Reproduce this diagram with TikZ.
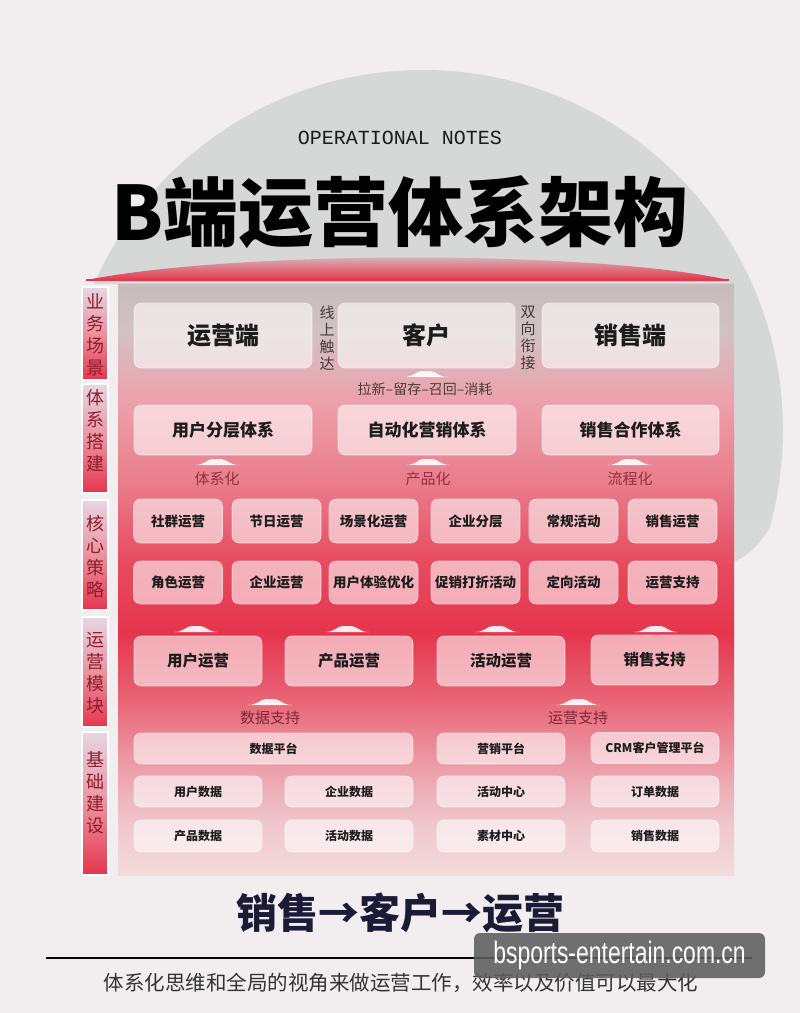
\documentclass[tikz,border=0pt]{standalone}
\usepackage{fontspec}
\setmainfont{Noto Sans CJK SC}
\newfontfamily\monof{Liberation Mono}
\newfontfamily\wmfont[FakeStretch=0.74]{Liberation Sans}
\definecolor{bg}{HTML}{F2EEEF}
\definecolor{txt}{HTML}{1C1C1C}
\definecolor{sidetxt}{HTML}{8E1D2E}
\definecolor{lbl}{HTML}{93303F}
\definecolor{lbldark}{HTML}{4B3B3E}
\definecolor{redA}{HTML}{E5354D}
\definecolor{navy}{HTML}{1B1B38}
\definecolor{subtxt}{HTML}{333333}
\definecolor{wmgray}{HTML}{5E5E5E}
\definecolor{discgray}{HTML}{D5D8D7}
% TikZ maps the path's bounding box onto 25bp..75bp of a custom shading
\pgfdeclareverticalshading{discshade}{100bp}{color(0bp)=(discgray!60!bg); color(25bp)=(discgray!60!bg); color(45bp)=(discgray); color(75bp)=(discgray); color(100bp)=(discgray)}
\pgfdeclareverticalshading{panelshade}{100bp}{%
color(0bp)=(bg);
color(25bp)=(bg!92!red);
color(29.5bp)=(redA!22!bg);
color(34.5bp)=(redA!45!bg);
color(40bp)=(redA!75!bg);
color(45.5bp)=(redA);
color(51.5bp)=(redA!88!bg);
color(58bp)=(redA!62!bg);
color(65bp)=(redA!42!bg);
color(71bp)=(redA!20!gray!35!bg);
color(75bp)=(redA!14!gray!42!bg);
color(100bp)=(redA!14!gray!42!bg)}
\pgfdeclareverticalshading{sideshade}{100bp}{color(0bp)=(redA); color(25bp)=(redA); color(50bp)=(redA!50!bg); color(75bp)=(violet!10!bg); color(100bp)=(violet!10!bg)}
\tikzset{
  box/.style={rounded corners=7pt, fill=white, fill opacity=0.58, text opacity=1,
    draw=white, draw opacity=0.6, line width=0.6pt, inner sep=0pt, text=txt},
  sideseg/.style={shading=sideshade, draw=white, line width=1.2pt},
  sidelbl/.style={font=\fontsize{18}{22}\selectfont, text=sidetxt, align=center, inner sep=0pt},
  vlbl/.style={font=\fontsize{15}{17}\selectfont, text=txt!85, align=center, inner sep=0pt},
  caplbl/.style={font=\fontsize{15}{15}\selectfont, text=lbl, inner sep=0pt},
  capfill/.style={fill=white, fill opacity=0.9}
}
\newcommand\upcap[2]{\fill[capfill] (#1-22,#2) .. controls (#1-12,#2) and (#1-10,#2-6) .. (#1-4,#2-6) -- (#1+4,#2-6) .. controls (#1+10,#2-6) and (#1+12,#2) .. (#1+22,#2) -- cycle;}
\begin{document}
\begin{tikzpicture}[x=1pt,y=-1pt]
\useasboundingbox (0,0) rectangle (800,1013);
\fill[bg] (0,0) rectangle (800,1013);
% gray disc (visible above the panel and at its right)
\begin{scope}
\clip (0,0) -- (800,0) -- (800,440) .. controls (785,510) and (765,548) .. (734,562) -- (734,284) -- (0,284) -- cycle;
\shade[shading=discshade] (423,430) circle [radius=360];
\end{scope}
% titles
\node[font=\monof\fontsize{20}{20}\selectfont, text=txt, inner sep=0pt] (en) at (400,138) {OPERATIONAL NOTES};
\node[font=\bfseries\fontsize{75}{75}\selectfont, text=black, inner sep=0pt] (title) at (400,212) {B端运营体系架构};
% lid
\shade[top color=discgray, bottom color=redA] (86,280) .. controls (240,250) and (590,250) .. (729,280) -- cycle;
\draw[redA, line width=1.5pt] (86,280) -- (729,280);
% panel
\shade[shading=panelshade] (118,284) rectangle (734,875);
% sidebar
\shade[sideseg] (82,287) rectangle (108,380);
\shade[sideseg] (82,384) rectangle (108,493);
\shade[sideseg] (82,500) rectangle (108,610);
\shade[sideseg] (82,617) rectangle (108,727);
\shade[sideseg] (82,732) rectangle (108,875);
\node[sidelbl] (s1) at (95,335) {业\\务\\场\\景};
\node[sidelbl] (s2) at (95,431) {体\\系\\搭\\建};
\node[sidelbl] (s3) at (95,557) {核\\心\\策\\略};
\node[sidelbl] (s4) at (95,673) {运\\营\\模\\块};
\node[sidelbl] (s5) at (95,793) {基\\础\\建\\设};
% row 1
\node[box, minimum width=178, minimum height=65, font=\bfseries\fontsize{24}{24}\selectfont] (yyd) at (223,335.5) {运营端};
\node[box, minimum width=177, minimum height=65, font=\bfseries\fontsize{24}{24}\selectfont] (kh) at (426.5,335.5) {客户};
\node[box, minimum width=177, minimum height=65, font=\bfseries\fontsize{24}{24}\selectfont] (xsd) at (630.5,335.5) {销售端};
\node[vlbl] (v1) at (327,338) {线\\上\\触\\达};
\node[vlbl] (v2) at (528,338) {双\\向\\衔\\接};
\upcap{426}{377}
\node[font=\fontsize{14}{14}\selectfont, text=lbldark, inner sep=0pt] (lx) at (425,389) {拉新–留存–召回–消耗};
% row 2
\node[box, minimum width=178, minimum height=50, font=\bfseries\fontsize{17}{17}\selectfont] (fc) at (223,430) {用户分层体系};
\node[box, minimum width=178, minimum height=50, font=\bfseries\fontsize{17}{17}\selectfont] (zd) at (427,430) {自动化营销体系};
\node[box, minimum width=177, minimum height=50, font=\bfseries\fontsize{17}{17}\selectfont] (hz) at (630.5,430) {销售合作体系};
\upcap{217}{465}
\upcap{428}{465}
\upcap{630}{465}
\node[caplbl] (l1) at (217,479) {体系化};
\node[caplbl] (l2) at (428,479) {产品化};
\node[caplbl] (l3) at (630,479) {流程化};
% row 3
\foreach \cx/\ta/\tb [count=\i] in {178/社群运营/角色运营, 276.5/节日运营/企业运营, 373.5/场景化运营/用户体验优化, 475.5/企业分层/促销打折活动, 573.5/常规活动/定向活动, 672.5/销售运营/运营支持}{
  \node[box, minimum width=89, minimum height=44, font=\bfseries\fontsize{13.5}{13.5}\selectfont] (a\i) at (\cx,521) {\ta};
  \node[box, minimum width=89, minimum height=43, font=\bfseries\fontsize{13.5}{13.5}\selectfont] (b\i) at (\cx,582.5) {\tb};
}
% row 4
\upcap{196}{632}
\upcap{347}{632}
\upcap{497}{632}
\upcap{656}{632}
\node[box, minimum width=128, minimum height=50, font=\bfseries\fontsize{15.5}{15.5}\selectfont] (m1) at (198,661) {用户运营};
\node[box, minimum width=128, minimum height=50, font=\bfseries\fontsize{15.5}{15.5}\selectfont] (m2) at (349,661) {产品运营};
\node[box, minimum width=128, minimum height=50, font=\bfseries\fontsize{15.5}{15.5}\selectfont] (m3) at (501,661) {活动运营};
\node[box, minimum width=127, minimum height=50, font=\bfseries\fontsize{15.5}{15.5}\selectfont] (m4) at (654.5,660) {销售支持};
\upcap{270}{705}
\upcap{578}{705}
\node[caplbl, text=lbl!85!black] (d1) at (270,718) {数据支持};
\node[caplbl, text=lbl!85!black] (d2) at (578,718) {运营支持};
% row 5
\tikzset{sbox/.style={box, minimum width=128, minimum height=31, font=\bfseries\fontsize{12}{12}\selectfont}}
\node[sbox, minimum width=279] (p1) at (273.5,748.5) {数据平台};
\node[sbox] (p2) at (501,748.5) {营销平台};
\node[sbox] (p3) at (655,748) {CRM客户管理平台};
\node[sbox] (q1) at (198,791.5) {用户数据};
\node[sbox] (q2) at (349,791.5) {企业数据};
\node[sbox] (q3) at (501,791.5) {活动中心};
\node[sbox] (q4) at (655,791.5) {订单数据};
\node[sbox, minimum height=32] (r1) at (198,836) {产品数据};
\node[sbox, minimum height=32] (r2) at (349,836) {活动数据};
\node[sbox, minimum height=32] (r3) at (501,836) {素材中心};
\node[sbox, minimum height=32] (r4) at (655,836) {销售数据};
% bottom
\node[font=\bfseries\fontsize{41}{41}\selectfont, text=navy, inner sep=0pt] (flow) at (400,913) {销售→客户→运营};
\coordinate (la) at (46,958);
\coordinate (lb) at (752,958);
\draw[black, line width=1.3pt] (la) -- (lb);
\node[font=\fontsize{20.5}{20.5}\selectfont, text=subtxt, inner sep=0pt] (sub) at (401,983) {体系化思维和全局的视角来做运营工作，效率以及价值可以最大化};
\node[fill=wmgray, fill opacity=0.88, text opacity=1, rounded corners=6pt, minimum width=291, minimum height=45, inner sep=0pt, text=white, font=\wmfont\fontsize{31}{31}\selectfont] (wm) at (619.5,955.5) {bsports-entertain.com.cn};
\end{tikzpicture}
\end{document}
